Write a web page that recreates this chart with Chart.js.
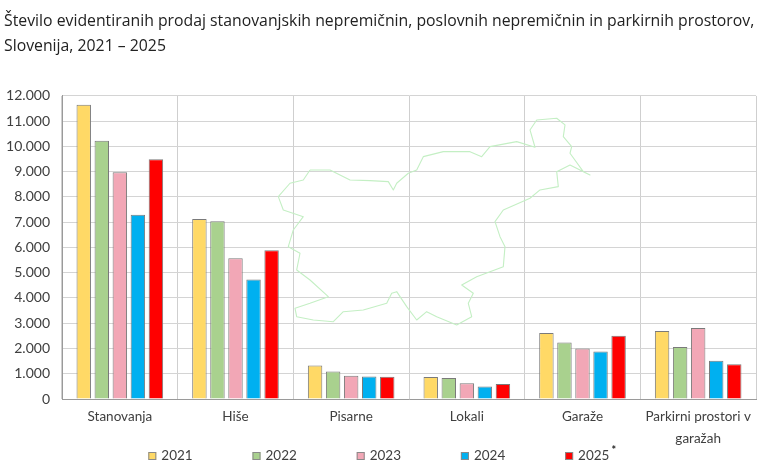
<!DOCTYPE html>
<html>
<head>
<meta charset="utf-8">
<script src="https://cdn.jsdelivr.net/npm/chart.js@4.4.1/dist/chart.umd.min.js"></script>
<style>
  html, body { margin: 0; padding: 0; background: #ffffff; }
  #wrap { width: 780px; height: 473px; position: relative; }
</style>
</head>
<body>
<div id="wrap"><canvas id="c" width="780" height="473"></canvas></div>
<script>
// ---- data ----
const titleLines = [
  'Število evidentiranih prodaj stanovanjskih nepremičnin, poslovnih nepremičnin in parkirnih prostorov,',
  'Slovenija, 2021 – 2025'
];
const categories = ['Stanovanja', 'Hiše', 'Pisarne', 'Lokali', 'Garaže', ['Parkirni prostori v', 'garažah']];
const seriesNames = ['2021', '2022', '2023', '2024', '2025*'];
const v2021 = [11650, 7130, 1330, 870, 2610, 2690];
const v2022 = [10230, 7040, 1090, 830, 2240, 2060];
const v2023 = [8980, 5570, 920, 620, 2000, 2810];
const v2024 = [7300, 4730, 890, 490, 1880, 1510];
const v2025 = [9490, 5890, 880, 590, 2500, 1380];
const yTickValues = [0, 1000, 2000, 3000, 4000, 5000, 6000, 7000, 8000, 9000, 10000, 11000, 12000];

// ---- styling ----
const colors = ['#FFD966', '#A9D18E', '#F2A7B6', '#00B0F0', '#FF0000'];
const allValues = [v2021, v2022, v2023, v2024, v2025];
const FONT_FAMILY = 'Lato, "Open Sans", sans-serif';
const TITLE_FAMILY = '"Open Sans", "Noto Sans", sans-serif';

function fmt(n) {
  return String(n).replace(/\B(?=(\d{3})+(?!\d))/g, '.');
}

// decorative Slovenia outline (background watermark), in reference-pixel space
const REF = { left: 62, top: 96, w: 694, h: 303 };
const mapOutline = [
  [310,170],[330,170],[350,180],[370,180.7],[388.3,181.7],[393.3,190],[396.7,183.3],[408.3,173.3],
  [416.7,170],[423.3,156.7],[443.3,151.7],[470,151.7],[481.7,156.7],[490,146.7],[516.7,141.7],
  [535,147.3],[530,130],[536.7,120],[556.7,118.3],[565,125],[563.3,136.7],[571.7,146.7],[570,153.3],
  [583.3,171.7],[590,175],[570,165],[556.7,171.7],[558.3,186.7],[540,190],[530,198.3],[503.3,210],
  [495,221.7],[500,236.7],[505,246.7],[503.3,266.7],[476.7,276.7],[461.7,285],[473.3,293.3],
  [468.3,303.3],[471.7,316.7],[456.7,325],[436.7,316.7],[426.7,311.7],[416.7,320],[406.7,306.7],
  [396.7,291.7],[391.7,293.3],[386.7,303.3],[363.3,310],[343.3,311.7],[333.3,321.7],[313.3,320],
  [296.7,316.7],[295,308.3],[310,303.3],[328.3,296.7],[310,280],[296.7,270],[300,253.3],[288.3,246.7],
  [293.3,230],[303.3,216.7],[283.3,210],[278.3,196.7],[290,183.3],[303.3,180],[310,170]
];

const mapPlugin = {
  id: 'mapBg',
  beforeDatasetsDraw(chart) {
    const ca = chart.chartArea;
    const ctx = chart.ctx;
    ctx.save();
    ctx.strokeStyle = '#c4efc4';
    ctx.lineWidth = 1.1;
    ctx.lineJoin = 'round';
    ctx.beginPath();
    mapOutline.forEach((p, i) => {
      const x = ca.left + (p[0] - REF.left) / REF.w * (ca.right - ca.left);
      const y = ca.top + (p[1] - REF.top) / REF.h * (ca.bottom - ca.top);
      if (i === 0) ctx.moveTo(x, y); else ctx.lineTo(x, y);
    });
    ctx.stroke();
    ctx.restore();
  }
};

// legend drawn below the x axis, items evenly spaced
const legendPlugin = {
  id: 'customLegend',
  afterDraw(chart) {
    const ctx = chart.ctx;
    const ca = chart.chartArea;
    const y = ca.bottom + 57;
    const step = 104.2;
    const startX = chart.width / 2 - 241.7;
    ctx.save();
    ctx.textBaseline = 'middle';
    ctx.textAlign = 'left';
    chart.data.datasets.forEach((ds, i) => {
      const bx = startX + i * step;
      ctx.fillStyle = ds.backgroundColor;
      ctx.fillRect(bx, y - 4, 8, 8);
      ctx.strokeStyle = '#8a8a8a';
      ctx.lineWidth = 1;
      ctx.strokeRect(bx + 0.5, y - 3.5, 7, 7);
      let label = ds.label;
      let star = false;
      if (label.endsWith('*')) { label = label.slice(0, -1); star = true; }
      ctx.fillStyle = '#404040';
      ctx.font = '13.5px ' + FONT_FAMILY;
      ctx.fillText(label, bx + 13, y);
      if (star) {
        const w = ctx.measureText(label).width;
        ctx.font = 'bold 11px ' + FONT_FAMILY;
        ctx.fillStyle = '#222222';
        ctx.fillText('*', bx + 13 + w + 2, y - 6);
      }
    });
    ctx.restore();
  }
};

const datasets = seriesNames.map((name, i) => ({
  label: name,
  data: allValues[i],
  backgroundColor: colors[i],
  borderColor: '#7a7a7a',
  borderWidth: 1,
  barPercentage: 0.8,
  categoryPercentage: 0.78
}));

new Chart(document.getElementById('c'), {
  type: 'bar',
  data: { labels: categories, datasets },
  plugins: [mapPlugin, legendPlugin],
  options: {
    responsive: false,
    animation: false,
    devicePixelRatio: 1,
    layout: { padding: { left: 4, right: 24, top: 4, bottom: 24 } },
    plugins: {
      title: {
        display: true,
        text: titleLines,
        align: 'start',
        color: '#222222',
        font: { family: TITLE_FAMILY, size: 15.8, weight: 'normal', lineHeight: 1.58 },
        padding: { top: 5, bottom: 37 }
      },
      legend: { display: false },
      tooltip: { enabled: false }
    },
    scales: {
      x: {
        grid: { color: '#cfcfcf', lineWidth: 1, drawTicks: false, offset: true },
        border: { display: true, color: '#9a9a9a', width: 1 },
        ticks: {
          color: '#404040',
          font: { family: FONT_FAMILY, size: 13.5, lineHeight: 1.6 },
          padding: 7, maxRotation: 0, autoSkip: false
        },
        afterFit(scale) { scale.height = 50; }
      },
      y: {
        min: 0,
        max: 12000,
        afterBuildTicks(scale) { scale.ticks = yTickValues.map(v => ({ value: v })); },
        grid: { color: '#d4d4d4', lineWidth: 1, drawTicks: false },
        border: { display: true, color: '#9a9a9a', width: 1 },
        ticks: { color: '#404040', font: { family: FONT_FAMILY, size: 14 }, padding: 12, callback: v => fmt(v) },
        afterFit(scale) { scale.width = 58; }
      }
    }
  }
});
</script>
</body>
</html>
